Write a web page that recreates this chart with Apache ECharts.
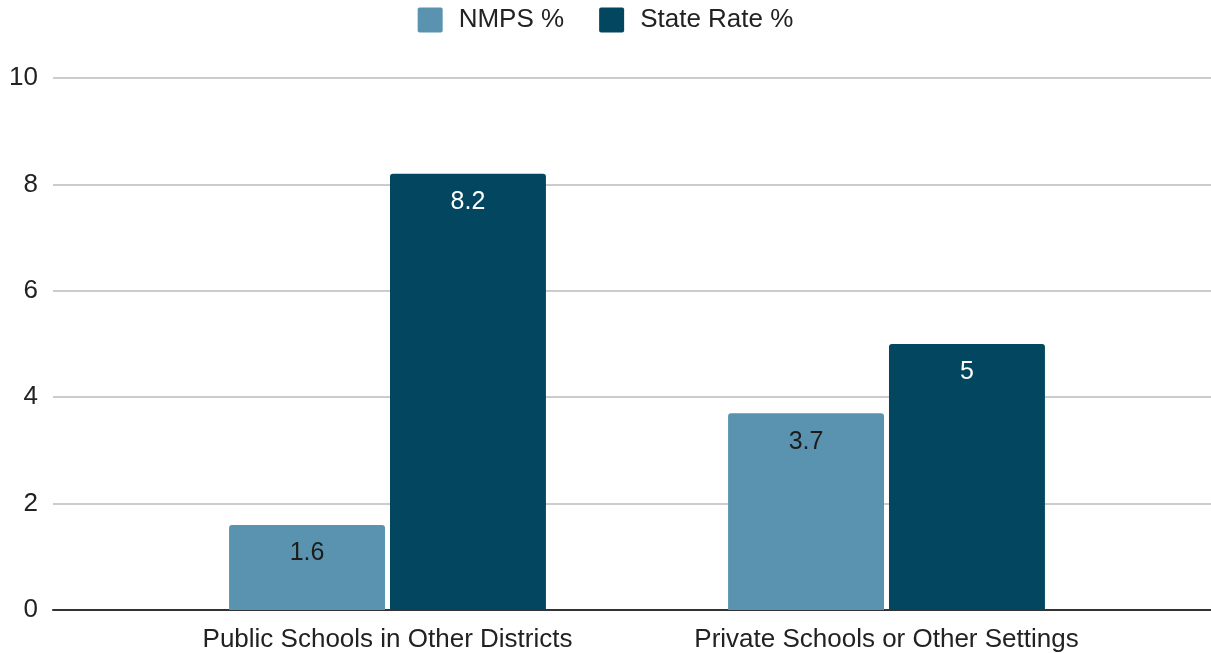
<!DOCTYPE html>
<html>
<head>
<meta charset="utf-8">
<script src="https://cdn.jsdelivr.net/npm/echarts@6/dist/echarts.min.js"></script>
<style>
  html, body { margin: 0; padding: 0; background: #fff; }
  #chart { width: 1211px; height: 653px; }
</style>
</head>
<body>
<div id="chart"></div>
<script>
// Enrollment destinations: NMPS vs. state rate
const categories = ['Public Schools in Other Districts', 'Private Schools or Other Settings'];
const nmpsValues = [1.6, 3.7];
const stateValues = [8.2, 5];
const seriesNames = ['NMPS %', 'State Rate %'];
const yTicks = [0, 2, 4, 6, 8, 10];

const FONT = '"Liberation Sans", Arial, sans-serif';
const chart = echarts.init(document.getElementById('chart'), null, { renderer: 'canvas' });

const option = {
  animation: false,
  textStyle: { fontFamily: FONT },
  legend: {
    top: 2,
    left: 'center',
    itemWidth: 25,
    itemHeight: 25,
    itemGap: 35,
    icon: 'path://M2,0 L23,0 Q25,0 25,2 L25,23 Q25,25 23,25 L2,25 Q0,25 0,23 L0,2 Q0,0 2,0 Z',
    textStyle: { fontSize: 26, color: '#222', fontFamily: FONT, padding: [0, 0, 0, 11] },
    data: seriesNames
  },
  grid: [
    // full-width frame for gridlines and the baseline
    { left: 53, right: 0, top: 78, bottom: 43 },
    // inner frame holding the bars
    { left: 138, right: 75, top: 78, bottom: 43 }
  ],
  xAxis: [
    {
      gridIndex: 0, type: 'category', data: categories,
      axisLine: { show: true, lineStyle: { color: '#333', width: 2 } },
      axisTick: { show: false }, axisLabel: { show: false }
    },
    {
      gridIndex: 1, type: 'category', data: categories,
      axisLine: { show: false }, axisTick: { show: false },
      axisLabel: {
        interval: 0, hideOverlap: false,
        fontSize: 26, color: '#222', margin: 17, fontFamily: FONT
      }
    }
  ],
  yAxis: [
    {
      gridIndex: 0, type: 'value', min: yTicks[0], max: yTicks[yTicks.length - 1], interval: 2,
      axisLine: { show: false }, axisTick: { show: false },
      axisLabel: { fontSize: 26, color: '#222', margin: 15, fontFamily: FONT },
      splitLine: { lineStyle: { color: '#cccccc', width: 2 } }
    },
    {
      gridIndex: 1, type: 'value', min: yTicks[0], max: yTicks[yTicks.length - 1], interval: 2,
      axisLine: { show: false }, axisTick: { show: false },
      axisLabel: { show: false }, splitLine: { show: false }
    }
  ],
  series: [
    {
      name: seriesNames[0], type: 'bar', xAxisIndex: 1, yAxisIndex: 1,
      data: nmpsValues,
      barGap: '3.2%', barCategoryGap: '36.5%',
      itemStyle: { color: '#5a93b0', borderRadius: [3, 3, 0, 0] },
      label: {
        show: true, position: 'insideTop', distance: 16,
        fontSize: 25, color: '#1c1c1c', fontFamily: FONT
      }
    },
    {
      name: seriesNames[1], type: 'bar', xAxisIndex: 1, yAxisIndex: 1,
      data: stateValues,
      barGap: '3.2%', barCategoryGap: '36.5%',
      itemStyle: { color: '#02465f', borderRadius: [3, 3, 0, 0] },
      label: {
        show: true, position: 'insideTop', distance: 16,
        fontSize: 25, color: '#ffffff', fontFamily: FONT
      }
    }
  ]
};

chart.setOption(option);
</script>
</body>
</html>
